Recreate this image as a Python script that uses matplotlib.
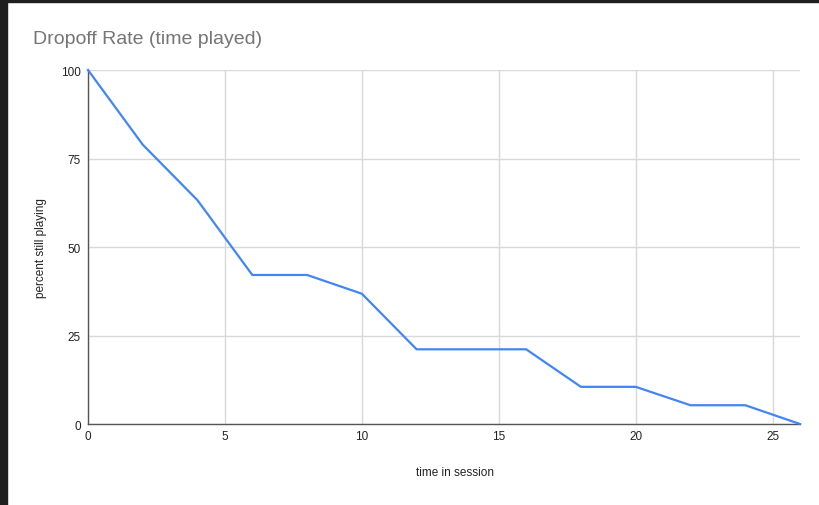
import matplotlib
matplotlib.use("Agg")
import matplotlib.pyplot as plt
from matplotlib.patches import Rectangle

# session time vs share of players still playing (19 players)
time_in_session = [0, 2, 4, 6, 8, 10, 12, 14, 16, 18, 20, 22, 24, 26]
percent_playing = [100, 78.9, 63.2, 42.1, 42.1, 36.8, 21.1, 21.1, 21.1,
                   10.5, 10.5, 5.3, 5.3, 0]
x_ticks = [0, 5, 10, 15, 20, 25]
y_ticks = [0, 25, 50, 75, 100]

LINE = "#4285f4"
GRID = "#d9d9d9"
AXIS = "#555555"
TITLE = "#757575"
TEXT = "#222222"

plt.rcParams["font.family"] = ["Liberation Sans", "DejaVu Sans"]

fig = plt.figure(figsize=(8.19, 5.06), dpi=100, facecolor="white")

# dark screenshot frame at top and left
fig.patches.append(Rectangle((0, 1 - 3 / 506), 1, 3 / 506, transform=fig.transFigure,
                             color="#1f1f1f", zorder=10))
fig.patches.append(Rectangle((0, 0), 7 / 819, 1, transform=fig.transFigure,
                             color="#1f1f1f", zorder=10))

ax = fig.add_axes([88 / 819, 1 - 425 / 506, 712 / 819, 354 / 506])
ax.plot(time_in_session, percent_playing, color=LINE, linewidth=1.6,
        solid_joinstyle="miter", zorder=3, clip_on=False)

ax.set_xlim(0, 26)
ax.set_ylim(0, 100)
ax.set_xticks(x_ticks)
ax.set_yticks(y_ticks)
ax.grid(True, color=GRID, linewidth=1.0)
ax.set_axisbelow(True)
ax.tick_params(length=0, labelsize=8.5, colors=TEXT)
ax.tick_params(axis="x", pad=4)
ax.tick_params(axis="y", pad=5)

for side in ("top", "right"):
    ax.spines[side].set_visible(False)
for side in ("left", "bottom"):
    ax.spines[side].set_color(AXIS)
    ax.spines[side].set_linewidth(1.0)

ax.set_xlabel("time in session", fontsize=8.5, color=TEXT)
ax.xaxis.set_label_coords(0.515, -0.118)
ax.set_ylabel("percent still playing", fontsize=8.5, color=TEXT, labelpad=10)

fig.text(33 / 819, 1 - 39 / 506, "Dropoff Rate (time played)", fontsize=14,
         color=TITLE, ha="left", va="center")

fig.savefig("out.png", dpi=100, facecolor="white")
